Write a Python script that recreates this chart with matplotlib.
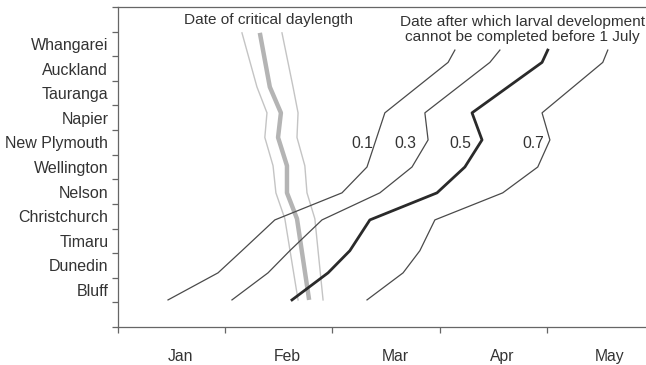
import numpy as np
import matplotlib
matplotlib.use("Agg")
import matplotlib.pyplot as plt

plt.rcParams['font.family'] = ['Liberation Sans', 'DejaVu Sans']

# locations, north to south (one label per 1-degree band)
places = ['Whangarei', 'Auckland', 'Tauranga', 'Napier', 'New Plymouth',
          'Wellington', 'Nelson', 'Christchurch', 'Timaru', 'Dunedin', 'Bluff']
months = ['Jan', 'Feb', 'Mar', 'Apr', 'May']

# date of critical daylength (days since 1 Jan, 30-day months) vs latitude
cd_lat = [35.05, 37.25, 38.3, 39.3, 40.45, 41.55, 42.6, 45.9]
cd_mid = [39.7, 42.5, 45.6, 44.8, 47.3, 47.3, 50.1, 53.5]
cd_lo = [34.7, 38.9, 41.7, 41.1, 43.4, 44.2, 46.7, 50.4]
cd_hi = [45.9, 49.0, 50.4, 50.1, 52.3, 52.9, 55.1, 57.4]

# date after which larval development cannot be completed before 1 July
dev_lat = [35.75, 36.25, 38.3, 39.4, 40.5, 41.55, 42.65, 43.9, 44.8, 45.9]
dev = {
    '0.1': [94.3, 92.4, 74.7, 72.2, 69.7, 62.7, 43.9, 34.7, 28.0, 14.0],
    '0.3': [106.9, 104.1, 85.9, 86.8, 82.3, 73.3, 57.1, 48.1, 42.0, 31.9],
    '0.5': [120.3, 118.7, 99.1, 101.9, 97.1, 89.3, 70.5, 64.9, 58.8, 48.7],
    '0.7': [137.1, 135.7, 118.7, 120.9, 117.5, 107.7, 88.7, 84.5, 79.8, 69.7],
}
dev_label_x = {'0.1': 68.3, '0.3': 80.5, '0.5': 95.7, '0.7': 116.1}

fig = plt.figure(figsize=(6.46, 3.65), dpi=100)
ax = fig.add_axes([118 / 646, 38 / 365, 1 - 118 / 646, 320 / 365])

# critical daylength band
ax.plot(cd_lo, cd_lat, color='#c4c4c4', lw=1.0)
ax.plot(cd_hi, cd_lat, color='#c4c4c4', lw=1.0)
ax.plot(cd_mid, cd_lat, color='#b4b4b4', lw=3.2, solid_capstyle='butt')

for k, xs in dev.items():
    if k == '0.5':
        ax.plot(xs, dev_lat, color='#2a2a2a', lw=2.0)
    else:
        ax.plot(xs, dev_lat, color='#4a4a4a', lw=0.9)
    ax.text(dev_label_x[k], 39.53, k, ha='center', va='center',
            fontsize=11.3, color='#333333')

ax.text(42.0, 34.53, 'Date of critical daylength', ha='center', va='center',
        fontsize=11.1, color='#333333')
ax.text(113.2, 34.93, 'Date after which larval development\ncannot be completed before 1 July',
        ha='center', va='center', fontsize=11.1, color='#333333', linespacing=1.08)

ax.set_xlim(0, 147.8)
ax.set_ylim(47, 34)

# band boundaries as ticks, names in between
ax.set_yticks(np.arange(34, 48))
ax.set_yticklabels([])
ax.set_yticks(np.arange(35.5, 46.5, 1.0), minor=True)
ax.set_yticklabels(places, minor=True)
ax.set_xticks([0, 30, 60, 90, 120])
ax.set_xticklabels([])
ax.set_xticks([17.5, 47.5, 77.5, 107.5, 137.5], minor=True)
ax.set_xticklabels(months, minor=True)

ax.tick_params(axis='both', which='major', direction='out', length=4.5,
               width=0.9, color='#666666')
ax.tick_params(axis='y', which='minor', length=0, pad=7, labelsize=11.5,
               labelcolor='#333333')
ax.tick_params(axis='x', which='minor', length=0, pad=16, labelsize=11.3,
               labelcolor='#333333')

for s in ['left', 'bottom', 'top']:
    ax.spines[s].set_color('#666666')
    ax.spines[s].set_linewidth(0.9)
ax.spines['right'].set_visible(False)

fig.savefig('out.png', dpi=100)
